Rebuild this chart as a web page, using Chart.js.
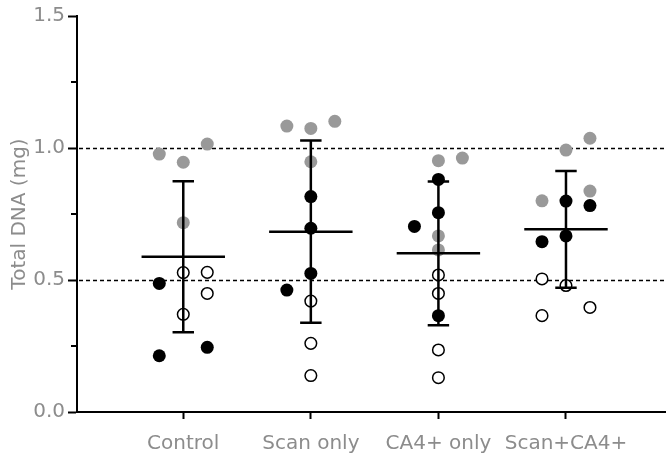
<!DOCTYPE html>
<html>
<head>
<meta charset="utf-8">
<script src="https://cdn.jsdelivr.net/npm/chart.js@4/dist/chart.umd.min.js"></script>
<style>
  html, body { margin: 0; padding: 0; background: #fff; }
  #wrap { width: 666px; height: 455px; }
</style>
</head>
<body>
<div id="wrap"><canvas id="c" width="666" height="455"></canvas></div>
<script>
// Treatment groups along the x axis
const categories = ['Control', 'Scan only', 'CA4+ only', 'Scan+CA4+'];

// Y axis ticks (major ones are labelled) and dashed reference levels
const yTicks = [0, 0.25, 0.5, 0.75, 1.0, 1.25, 1.5];
const refLines = [0.5, 1.0];

// Individual measurements: group index, column within the group (-1, 0, 1), value
const grayGroup = [0, 0, 0, 0, 1, 1, 1, 1, 2, 2, 2, 2, 3, 3, 3, 3];
const grayCol   = [-1, 0, 1, 0, -1, 0, 1, 0, 0, 1, 0, 0, 1, 0, 1, -1];
const grayVal   = [0.977, 0.946, 1.015, 0.717, 1.083, 1.074, 1.101, 0.948,
                   0.952, 0.962, 0.667, 0.614, 1.037, 0.992, 0.837, 0.800];

const blackGroup = [0, 0, 0, 1, 1, 1, 1, 2, 2, 2, 2, 3, 3, 3, 3];
const blackCol   = [-1, -1, 1, 0, 0, 0, -1, 0, 0, -1, 0, 0, 1, -1, 0];
const blackVal   = [0.487, 0.213, 0.245, 0.816, 0.696, 0.525, 0.462,
                    0.881, 0.755, 0.703, 0.365, 0.799, 0.782, 0.645, 0.667];

const openGroup = [0, 0, 0, 0, 1, 1, 1, 2, 2, 2, 2, 3, 3, 3, 3];
const openCol   = [0, 1, 1, 0, 0, 0, 0, 0, 0, 0, 0, -1, 0, 1, -1];
const openVal   = [0.528, 0.529, 0.449, 0.370, 0.420, 0.260, 0.138,
                   0.519, 0.449, 0.235, 0.130, 0.504, 0.479, 0.396, 0.365];

// Group summary: mean and standard deviation
const means = [0.588, 0.683, 0.601, 0.692];
const sds   = [0.286, 0.345, 0.272, 0.221];

// Layout constants (in x-axis units)
const COL_STEP = 0.188;
const MEAN_HALF = 0.327;
const CAP_HALF = 0.084;

const FONT = "'DejaVu Sans', 'Open Sans', sans-serif";
const TEXT = '#8c8c8c';

function isMajor(v) { return Math.abs(v * 2 - Math.round(v * 2)) < 1e-6; }

function pts(groups, cols, vals) {
  return vals.map((v, i) => ({ x: groups[i] + cols[i] * COL_STEP, y: v }));
}

// Mean bars, error bars and caps as broken line segments
const meanPts = [], errPts = [];
means.forEach((m, i) => {
  meanPts.push({ x: i - MEAN_HALF, y: m }, { x: i + MEAN_HALF, y: m }, { x: i, y: null });
  const lo = m - sds[i], hi = m + sds[i];
  errPts.push({ x: i, y: lo }, { x: i, y: hi }, { x: i, y: null });
  errPts.push({ x: i - CAP_HALF, y: hi }, { x: i + CAP_HALF, y: hi }, { x: i, y: null });
  errPts.push({ x: i - CAP_HALF, y: lo }, { x: i + CAP_HALF, y: lo }, { x: i, y: null });
});

const lineStyle = {
  type: 'line', borderColor: '#000', borderWidth: 2.5,
  pointRadius: 0, spanGaps: false, tension: 0, order: 0, borderCapStyle: 'butt'
};
const dotStyle = { type: 'scatter', order: 1, pointHoverRadius: 6.5 };

// Dashed reference levels and short minor ticks on the y axis
const extras = {
  id: 'extras',
  beforeDatasetsDraw(chart) {
    const { ctx, chartArea, scales } = chart;
    ctx.save();
    ctx.strokeStyle = '#000';
    ctx.lineWidth = 1.6;
    ctx.setLineDash([4, 3]);
    refLines.forEach(v => {
      const y = Math.round(scales.y.getPixelForValue(v)) + 0.5;
      ctx.beginPath();
      ctx.moveTo(chartArea.left + 2, y);
      ctx.lineTo(chartArea.right, y);
      ctx.stroke();
    });
    ctx.restore();
  },
  afterDraw(chart) {
    const { ctx, chartArea, scales } = chart;
    ctx.save();
    ctx.strokeStyle = '#000';
    ctx.lineWidth = 2;
    yTicks.filter(v => !isMajor(v)).forEach(v => {
      const y = Math.round(scales.y.getPixelForValue(v));
      ctx.beginPath();
      ctx.moveTo(chartArea.left - 6, y);
      ctx.lineTo(chartArea.left, y);
      ctx.stroke();
    });
    ctx.restore();
  }
};

new Chart(document.getElementById('c'), {
  data: {
    datasets: [
      Object.assign({}, lineStyle, { data: meanPts }),
      Object.assign({}, lineStyle, { data: errPts }),
      Object.assign({}, dotStyle, {
        data: pts(grayGroup, grayCol, grayVal),
        pointRadius: 6.5, backgroundColor: '#999', borderWidth: 0
      }),
      Object.assign({}, dotStyle, {
        data: pts(blackGroup, blackCol, blackVal),
        pointRadius: 6.5, backgroundColor: '#000', borderWidth: 0
      }),
      Object.assign({}, dotStyle, {
        data: pts(openGroup, openCol, openVal),
        pointRadius: 5.8, backgroundColor: '#fff', borderColor: '#000', borderWidth: 1.5
      })
    ]
  },
  options: {
    responsive: false,
    animation: false,
    events: [],
    layout: { autoPadding: false, padding: { top: 16, right: 0, bottom: 0, left: 0 } },
    plugins: { legend: { display: false }, tooltip: { enabled: false } },
    scales: {
      x: {
        type: 'linear', position: 'bottom', min: -0.833, max: 3.784,
        afterBuildTicks(scale) { scale.ticks = categories.map((_, i) => ({ value: i })); },
        afterFit(scale) { scale.height = 43; scale.paddingLeft = 0; scale.paddingRight = 0; },
        ticks: {
          callback: v => categories[v] ?? '',
          color: TEXT, font: { family: FONT, size: 20 },
          padding: 13, maxRotation: 0, autoSkip: false
        },
        grid: { drawOnChartArea: false, drawTicks: true, tickLength: 7, tickColor: '#000', tickWidth: 2 },
        border: { display: true, color: '#000', width: 2 }
      },
      y: {
        type: 'linear', min: 0, max: 1.5,
        afterBuildTicks(scale) { scale.ticks = yTicks.map(v => ({ value: v })); },
        afterFit(scale) { scale.width = 77; },
        ticks: {
          callback: v => isMajor(v) ? v.toFixed(1) : '',
          color: TEXT, font: { family: FONT, size: 20 },
          padding: 3
        },
        grid: {
          drawOnChartArea: false, drawTicks: true, tickLength: 9, tickWidth: 2,
          tickColor: c => (c.tick && isMajor(c.tick.value)) ? '#000' : 'rgba(0,0,0,0)'
        },
        border: { display: true, color: '#000', width: 2 },
        title: {
          display: true, text: 'Total DNA (mg)', color: TEXT,
          font: { family: FONT, size: 20 },
          padding: { top: 8, bottom: 0 }
        }
      }
    }
  },
  plugins: [extras]
});
</script>
</body>
</html>
